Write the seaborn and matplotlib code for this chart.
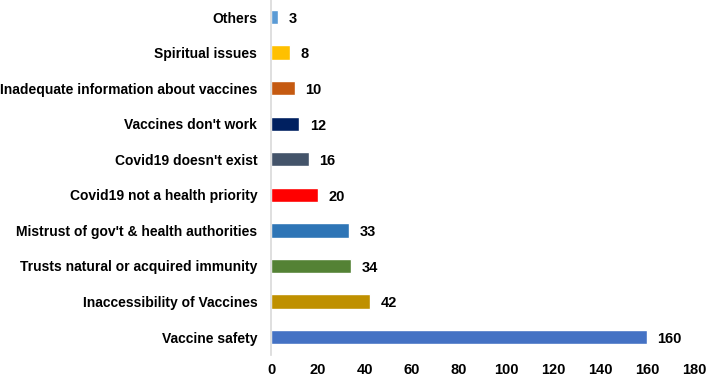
import pandas as pd
import matplotlib.pyplot as plt
import seaborn as sns

# datos
razones = ["Others", "Spiritual issues", "Inadequate information about vaccines",
           "Vaccines don't work", "Covid19 doesn't exist", "Covid19 not a health priority",
           "Mistrust of gov't & health authorities", "Trusts natural or acquired immunity",
           "Inaccessibility of Vaccines", "Vaccine safety"]
conteos = [3, 8, 10, 12, 16, 20, 33, 34, 42, 160]
colores = ["#5B9BD5", "#FFC000", "#C55A11", "#002060", "#44546A",
           "#FF0000", "#2E75B6", "#548235", "#BF9000", "#4472C4"]
ticks_x = [0, 20, 40, 60, 80, 100, 120, 140, 160, 180]

df = pd.DataFrame({"razon": razones, "n": conteos})

sns.set_theme(style="white")
plt.rcParams["font.family"] = ["Liberation Sans", "DejaVu Sans"]
plt.rcParams["font.weight"] = "bold"
plt.rcParams["text.color"] = "black"
plt.rcParams["xtick.color"] = "black"
plt.rcParams["ytick.color"] = "black"

fig = plt.figure(figsize=(7.08, 3.8), dpi=100)
ax = fig.add_axes([0.383, 0.066, 0.597, 0.936])

sns.barplot(data=df, y="razon", x="n", hue="razon", palette=colores,
            saturation=1, legend=False, width=0.4, ax=ax, orient="h")

for i, v in enumerate(conteos):
    ax.text(v + 4.5, i + 0.05, str(v), va="center", ha="left",
            fontsize=10.5, fontweight="bold", color="black")

ax.set_xlim(0, 180)
ax.set_ylim(len(razones) - 0.5, -0.5)
ax.set_xticks(ticks_x)
ax.set_xlabel("")
ax.set_ylabel("")
ax.tick_params(axis="y", length=0, labelsize=10, pad=10)
ax.tick_params(axis="x", length=0, labelsize=10.5, pad=6)
for lbl in ax.get_xticklabels() + ax.get_yticklabels():
    lbl.set_fontweight("bold")
for s in ["top", "right", "bottom"]:
    ax.spines[s].set_visible(False)
ax.spines["left"].set_color("#D9D9D9")
ax.spines["left"].set_linewidth(1.2)

fig.savefig("out.png", dpi=100)
